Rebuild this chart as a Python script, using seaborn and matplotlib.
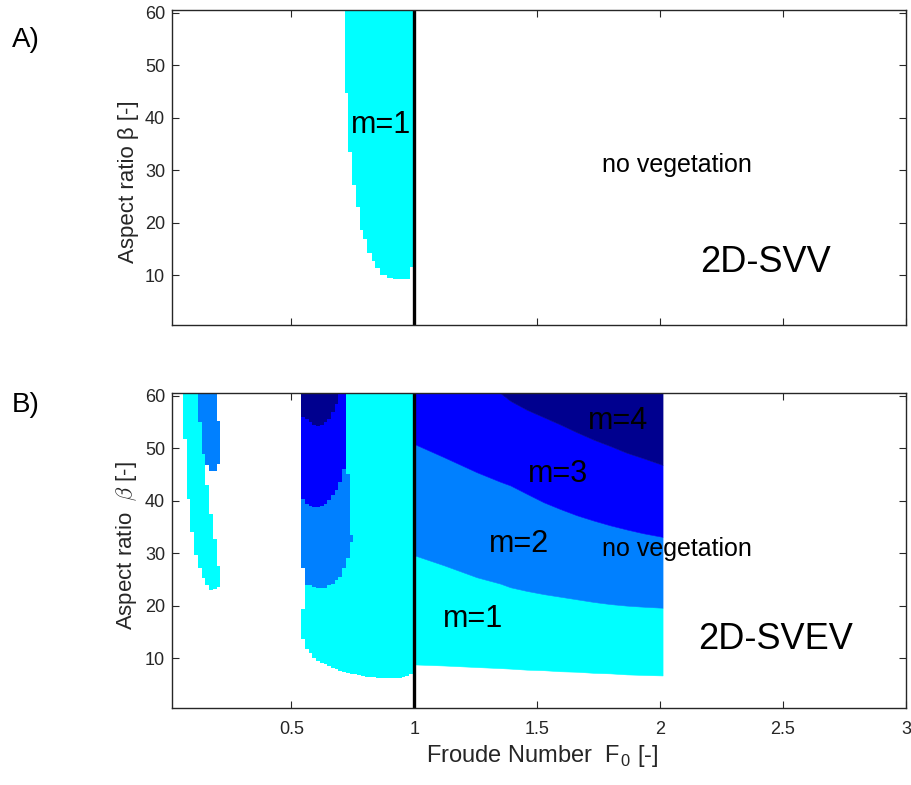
import numpy as np
import matplotlib
matplotlib.use("Agg")
import matplotlib.pyplot as plt
import seaborn as sns

# ---------------- data ----------------
mode_colors = {1: "#00FFFF", 2: "#0080FF", 3: "#0000FF", 4: "#00008F"}
beta_top = 60.5

# Panel A (2D-SVV): m=1 region, column edges in F and beta bounds per column
A_F = [0.718, 0.732, 0.749, 0.762, 0.779, 0.793, 0.806, 0.827, 0.840, 0.861, 0.888, 0.913, 0.982, 1.0]
A_m1_lo = [44.7, 33.5, 27.2, 23.0, 18.6, 16.8, 14.2, 12.6, 11.3, 10.0, 9.4, 9.3, 11.6]
A_m1_hi = [60.5] * 13
A_sliver_F = [1.0, 1.008]
A_sliver_lo = [20.5]
A_sliver_hi = [60.5]

# Panel B (2D-SVEV): left strip
BL_F = [0.060, 0.075, 0.090, 0.105, 0.120, 0.136, 0.151, 0.166, 0.181, 0.196, 0.211]
BL_m1_lo = [51.8, 40.4, 34.0, 29.6, 27.1, 25.2, 23.9, 23.0, 23.1, 23.5]
BL_m1_hi = [60.5, 60.5, 60.5, 60.5, 54.9, 48.9, 42.9, 37.5, 32.7, 27.6]
BL_m2_F = [0.120, 0.136, 0.151, 0.166, 0.181, 0.196, 0.211]
BL_m2_lo = [54.9, 48.9, 46.7, 45.6, 45.6, 46.9]
BL_m2_hi = [60.5, 60.5, 60.5, 60.5, 60.5, 55.2]

# Panel B: middle region (F < 1)
BM_F = [0.541, 0.556, 0.571, 0.586, 0.601, 0.617, 0.632, 0.647, 0.662, 0.677, 0.692,
        0.707, 0.722, 0.737, 0.752, 0.768, 0.783, 0.798, 0.813, 0.828, 0.843, 0.858,
        0.873, 0.888, 0.903, 0.919, 0.934, 0.949, 0.964, 0.979, 0.994, 1.0]
BM_m1_lo = [13.7, 11.8, 10.9, 10.0, 9.5, 9.1, 8.8, 8.5, 8.2, 7.9, 7.6, 7.4, 7.2, 7.0, 6.9,
            6.7, 6.6, 6.5, 6.4, 6.4, 6.3, 6.3, 6.3, 6.3, 6.3, 6.3, 6.3, 6.4, 6.6, 6.9, 7.4]
BM_m1_hi = [19.4] + [60.5] * 30
BM_m2_lo = [27.1, 23.9, 23.9, 23.6, 23.3, 23.3, 23.3, 23.9, 24.2, 24.8, 25.4, 27.1, 29.0, 32.1]
BM_m2_hi = [40.4, 39.4, 39.0, 38.8, 38.8, 39.0, 39.4, 40.1, 41.0, 42.0, 43.5, 46.1, 45.1, 33.4]
BM_m3_lo = [40.4, 39.4, 39.0, 38.8, 38.8, 39.0, 39.4, 40.1, 41.0, 42.0, 43.5, 46.1]
BM_m3_hi = [55.9, 55.6, 55.0, 54.5, 54.3, 54.5, 55.0, 55.6, 56.8, 58.4, 60.5, 60.5]
BM_m4_lo = [55.9, 55.6, 55.0, 54.5, 54.3, 54.5, 55.0, 55.6, 56.8, 58.4]
BM_m4_hi = [60.5] * 10

# Panel B: right region (F > 1), mode boundaries
BR_F = [1.0, 1.12, 1.255, 1.35, 1.391, 1.458, 1.526, 1.594, 1.662, 1.73, 1.797, 1.865, 1.93, 2.01]
BR_b0 = [8.8, 8.6, 8.3, 8.1, 8.0, 7.8, 7.7, 7.5, 7.4, 7.2, 7.1, 6.9, 6.8, 6.7]
BR_b1 = [29.6, 27.7, 25.4, 24.2, 23.5, 22.8, 22.2, 21.7, 21.2, 20.7, 20.3, 20.0, 19.8, 19.6]
BR_b2 = [50.8, 48.3, 45.4, 43.6, 42.9, 41.3, 39.7, 38.4, 37.2, 36.2, 35.3, 34.5, 33.8, 33.1]
BR_b3 = [60.5, 60.5, 60.5, 60.5, 59.0, 57.3, 55.9, 54.5, 53.0, 51.6, 50.4, 49.1, 48.1, 46.8]

x_ticks = [0.5, 1, 1.5, 2, 2.5, 3]
x_ticklabels = ["0.5", "1", "1.5", "2", "2.5", "3"]
y_ticks = [10, 20, 30, 40, 50, 60]

# ---------------- style ----------------
sns.set_theme(style="ticks")
plt.rcParams["font.family"] = ["Liberation Sans", "DejaVu Sans"]
plt.rcParams["mathtext.fontset"] = "cm"
axcol = "#262626"

fig = plt.figure(figsize=(9.12, 7.85), dpi=100)
W, H = 912, 785
ax1 = fig.add_axes([172 / W, 1 - 325 / H, 734 / W, 315 / H])
ax2 = fig.add_axes([172 / W, 1 - 708 / H, 734 / W, 315 / H])


def columns(ax, edges, lo, hi, mode):
    edges = np.asarray(edges, float)
    lo = np.asarray(lo, float)
    hi = np.asarray(hi, float)
    n = len(lo)
    c = mode_colors[mode]
    ax.bar(edges[:n], hi - lo, bottom=lo, width=np.diff(edges)[:n], align="edge",
           color=c, linewidth=0, antialiased=False, zorder=1)


def bands(ax, F, lower, upper, mode):
    c = mode_colors[mode]
    ax.fill_between(F, lower, upper, color=c, linewidth=0.4, edgecolor=c, zorder=1)


# Panel A
columns(ax1, A_F, A_m1_lo, A_m1_hi, 1)
columns(ax1, A_sliver_F, A_sliver_lo, A_sliver_hi, 1)

# Panel B
columns(ax2, BL_F, BL_m1_lo, BL_m1_hi, 1)
columns(ax2, BL_m2_F, BL_m2_lo, BL_m2_hi, 2)
columns(ax2, BM_F, BM_m1_lo, BM_m1_hi, 1)
columns(ax2, BM_F, BM_m2_lo, BM_m2_hi, 2)
columns(ax2, BM_F, BM_m3_lo, BM_m3_hi, 3)
columns(ax2, BM_F, BM_m4_lo, BM_m4_hi, 4)
bands(ax2, BR_F, BR_b0, BR_b1, 1)
bands(ax2, BR_F, BR_b1, BR_b2, 2)
bands(ax2, BR_F, BR_b2, BR_b3, 3)
bands(ax2, BR_F, BR_b3, [beta_top] * len(BR_F), 4)

for ax in (ax1, ax2):
    sns.lineplot(x=[1, 1], y=[0.5, beta_top], color="black", linewidth=2.4,
                 estimator=None, sort=False, ax=ax, zorder=3)
    ax.set_xlim(0.015, 3)
    ax.set_ylim(0.5, 60.5)
    ax.set_xticks(x_ticks)
    ax.set_yticks(y_ticks)
    ax.tick_params(direction="in", length=5, width=0.8, top=True, right=True,
                   colors=axcol, labelsize=13, labelcolor=axcol)
    ax.tick_params(axis="x", pad=9)
    ax.tick_params(axis="y", pad=5)
    for s in ax.spines.values():
        s.set_visible(True)
        s.set_color(axcol)
        s.set_linewidth(1.0)
        s.set_zorder(5)
    ax.set_facecolor("white")

ax1.set_xticklabels([])
ax2.set_xticklabels(x_ticklabels)

ax1.set_ylabel("Aspect ratio β [-]", fontsize=16, color=axcol)
ax2.set_ylabel(r"Aspect ratio  $\beta$ [-]", fontsize=16, color=axcol)
ax1.yaxis.set_label_coords(-0.045, 0.454)
ax2.yaxis.set_label_coords(-0.045, 0.516)
ax2.set_xlabel(r"Froude Number  F$_\mathregular{0}$ [-]", fontsize=17, color=axcol)
ax2.xaxis.set_label_coords(0.504, -0.11)

# annotations
ax1.text(0.865, 38.6, "m=1", fontsize=22, ha="center", va="center", color="black", zorder=4)
ax1.text(2.069, 31.0, "no vegetation", fontsize=18, ha="center", va="center", color="black")
ax1.text(2.43, 12.5, "2D-SVV", fontsize=26, ha="center", va="center", color="black")

ax2.text(1.83, 55.2, "m=4", fontsize=22, ha="center", va="center", color="black", zorder=4)
ax2.text(1.585, 45.1, "m=3", fontsize=22, ha="center", va="center", color="black", zorder=4)
ax2.text(1.427, 31.7, "m=2", fontsize=22, ha="center", va="center", color="black", zorder=4)
ax2.text(2.069, 30.8, "no vegetation", fontsize=18, ha="center", va="center", color="black", zorder=4)
ax2.text(1.239, 17.5, "m=1", fontsize=22, ha="center", va="center", color="black", zorder=4)
ax2.text(2.47, 13.6, "2D-SVEV", fontsize=26, ha="center", va="center", color="black")

fig.text(12 / W, 1 - 40 / H, "A)", fontsize=20, ha="left", va="center", color="black")
fig.text(12 / W, 1 - 405 / H, "B)", fontsize=20, ha="left", va="center", color="black")

fig.savefig("out.png", dpi=100, facecolor="white")
